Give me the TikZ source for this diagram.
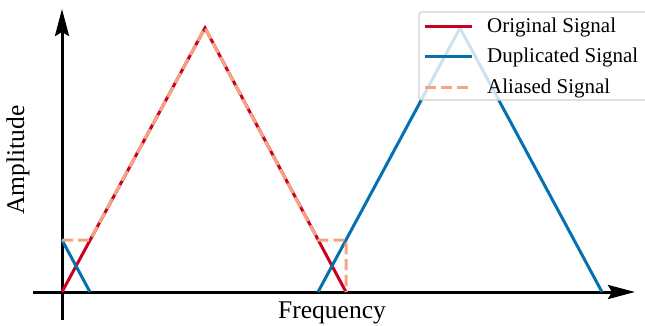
\documentclass[tikz,border=0pt]{standalone}
\usepackage{fontspec}
\setmainfont{Liberation Serif}
\usetikzlibrary{arrows.meta}
\definecolor{origred}{HTML}{CA0020}
\definecolor{dupblue}{HTML}{0571B0}
\definecolor{aliasor}{HTML}{F4A582}
\tikzset{
  axisline/.style={line width=3pt, -{Stealth[length=27pt,width=14pt,inset=4pt]}},
  origline/.style={origred, line width=3pt, line join=miter},
  dupline/.style={dupblue, line width=3pt, line join=miter},
  aliasline/.style={aliasor, line width=3pt, dash pattern=on 11.1pt off 4.8pt},
  legbox/.style={draw=black!18, line width=1.3pt, rounded corners=3pt, fill=white, fill opacity=0.8},
  legtext/.style={anchor=west, inner sep=0pt, font=\fontsize{21}{24}\selectfont},
  axlabel/.style={inner sep=0pt, font=\fontsize{25.5}{28}\selectfont}
}
\begin{document}
\begin{tikzpicture}[x=1pt,y=-1pt]
\useasboundingbox (0,0) rectangle (645,326);
% axes
\coordinate (xs) at (33,292);
\coordinate (xe) at (635,292);
\coordinate (ys) at (62,320);
\coordinate (ye) at (62,9);
\draw[axisline] (xs) -- (xe);
\draw[axisline] (ys) -- (ye);
% signal points
\coordinate (o0) at (62,292);
\coordinate (op) at (205,28);
\coordinate (o1) at (346,292);
\coordinate (b0) at (62,240);
\coordinate (b1) at (90,292);
\coordinate (d0) at (318,292);
\coordinate (dp) at (460,28);
\coordinate (d1) at (602,292);
\coordinate (a1) at (90,240);
\coordinate (a2) at (318,240);
\coordinate (a3) at (346,240);
\draw[origline] (o0) -- (op) -- (o1);
\draw[dupline] (b0) -- (b1);
\draw[dupline] (d0) -- (dp) -- (d1);
\draw[aliasline] (b0) -- (a1) -- (op) -- (a2) -- (a3) -- (o1);
% labels
\node[axlabel] (fl) at (332,313) {Frequency};
\node[axlabel, rotate=90] (al) at (18,160) {Amplitude};
% legend
\draw[legbox] (419,12) rectangle (660,100);
\coordinate (l1a) at (425,27); \coordinate (l1b) at (472,27);
\coordinate (l2a) at (425,57); \coordinate (l2b) at (472,57);
\coordinate (l3a) at (425,88); \coordinate (l3b) at (472,88);
\draw[origline] (l1a) -- (l1b);
\draw[dupline] (l2a) -- (l2b);
\draw[aliasline] (l3a) -- (l3b);
\node[legtext] (t1) at (487,27) {Original Signal};
\node[legtext] (t2) at (487,57) {Duplicated Signal};
\node[legtext] (t3) at (487,88) {Aliased Signal};
\end{tikzpicture}
\end{document}
